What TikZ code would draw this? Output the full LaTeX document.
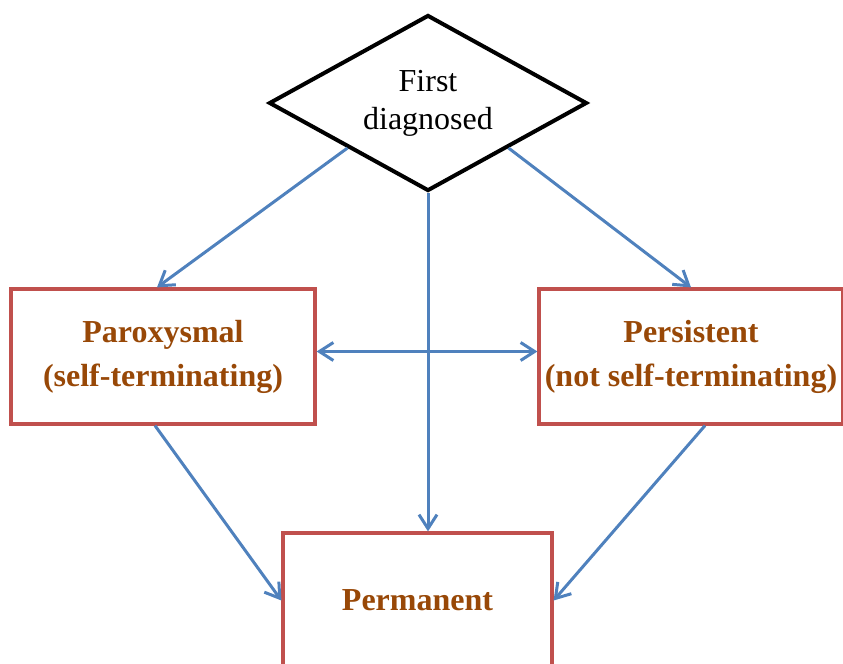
\documentclass[tikz,border=0pt]{standalone}
\usepackage{fontspec}
\setmainfont{Liberation Serif}
\usetikzlibrary{arrows.meta, positioning, shapes.geometric, calc}

\definecolor{arrowblue}{HTML}{4F81BD}
\definecolor{boxred}{HTML}{C0504D}
\definecolor{textbrown}{HTML}{984807}

\begin{document}
\begin{tikzpicture}[x=0.5pt, y=-0.5pt,
    decision/.style={diamond, aspect=1.77, draw=black, line width=2pt, fill=white,
        minimum width=159pt, minimum height=88pt, inner sep=0pt,
        align=center, font=\fontsize{16}{19}\selectfont},
    typebox/.style={rectangle, draw=boxred, line width=1.6pt, fill=white,
        minimum width=152pt, minimum height=67.5pt, inner sep=0pt,
        align=center, text=textbrown, font=\fontsize{16}{22}\selectfont\bfseries},
    flow/.style={draw=arrowblue, line width=1.5pt,
        -{Straight Barb[length=7pt, width=9pt]}},
    flowboth/.style={flow, {Straight Barb[length=7pt, width=9pt]}-{Straight Barb[length=7pt, width=9pt]}}]
    \useasboundingbox (0,0) rectangle (843,664);

    % Nodes
    \node[decision] (first) at (428,103) {First\\diagnosed};
    \node[typebox] (parox) at (163,356.5) {Paroxysmal\\(self-terminating)};
    \node[typebox] (persist) at (691,356.5) {Persistent\\(not self-terminating)};
    \node[typebox, minimum width=134.5pt] (perm) at (417.5,600.5) {Permanent};

    % Connectors
    \draw[flow] (first.south west) -- ([xshift=-3pt]parox.north);
    \draw[flow] (first.south east) -- (persist.north);
    \draw[flow] (first.south) -- (first.south |- perm.north);
    \draw[flowboth] ([yshift=2.5pt]parox.east) -- ([yshift=2.5pt]persist.west);
    \draw[flow] ([xshift=-4pt]parox.south) -- (perm.west);
    \draw[flow] ([xshift=7pt]persist.south) -- (perm.east);

\end{tikzpicture}
\end{document}
